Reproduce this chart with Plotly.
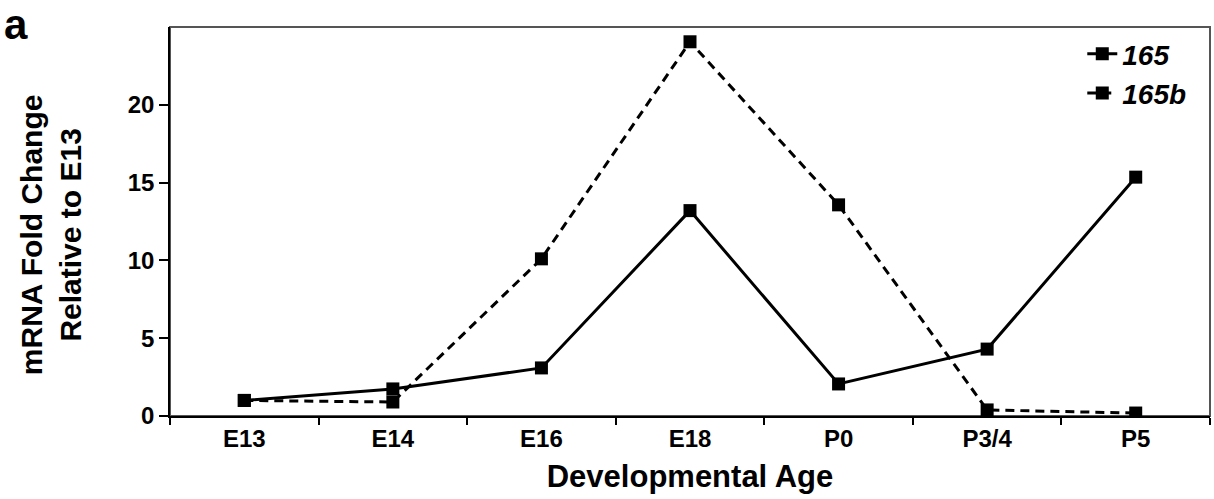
import plotly.graph_objects as go

categories = ["E13", "E14", "E16", "E18", "P0", "P3/4", "P5"]
vegf165 = [1.0, 1.74, 3.09, 13.2, 2.06, 4.3, 15.35]
vegf165b = [1.0, 0.9, 10.1, 24.05, 13.57, 0.39, 0.19]
y_ticks = [0, 5, 10, 15, 20]

FONT = "Liberation Sans, Arial, sans-serif"

fig = go.Figure()
fig.add_trace(go.Scatter(
    x=categories, y=vegf165, name="<b><i>165</i></b>", mode="lines+markers",
    line=dict(color="black", width=3, dash="solid"),
    marker=dict(symbol="square", size=13, color="black"),
))
fig.add_trace(go.Scatter(
    x=categories, y=vegf165b, name="<b><i>165b</i></b>", mode="lines+markers",
    line=dict(color="black", width=3, dash="9px,6px"),
    marker=dict(symbol="square", size=13, color="black"),
))

fig.update_layout(
    width=1214, height=499,
    margin=dict(l=170, r=4, t=27, b=83),
    paper_bgcolor="white", plot_bgcolor="white",
    font=dict(family=FONT, color="black"),
    showlegend=True,
    legend=dict(
        x=0.982, y=0.995, xanchor="right", yanchor="top",
        font=dict(size=28, family=FONT, color="black"),
        bgcolor="rgba(0,0,0,0)", tracegroupgap=0,
    ),
    shapes=[dict(type="rect", xref="paper", yref="paper", x0=0, x1=1, y0=0, y1=1,
                 line=dict(color="#555555", width=2), layer="below")],
    annotations=[
        dict(text="<b>a</b>", x=-0.161, y=1.069, xref="paper", yref="paper",
             xanchor="left", yanchor="top", showarrow=False, borderpad=0,
             font=dict(size=42, family=FONT, color="black")),
        dict(text="<b>mRNA Fold Change<br>Relative to E13</b>", textangle=-90,
             x=-0.1144, y=0.465, xref="paper", yref="paper",
             xanchor="center", yanchor="middle", showarrow=False,
             font=dict(size=30, family=FONT, color="black")),
    ],
)

fig.update_xaxes(
    type="category", tickson="boundaries", ticks="outside", ticklen=7, tickwidth=1.5,
    tickcolor="black", showline=True, linecolor="black", linewidth=1.5,
    showgrid=False, zeroline=False,
    tickfont=dict(size=24, family=FONT, color="black"),
    range=[-0.5, 6.5],
    tickvals=categories, ticktext=["<b>%s</b>" % c for c in categories],
    title=dict(text="<b>Developmental Age</b>", font=dict(size=31, family=FONT, color="black"),
               standoff=15),
)
fig.update_yaxes(
    range=[0, 25], tickvals=y_ticks, ticktext=["<b>%d</b>" % v for v in y_ticks],
    ticks="outside", ticklen=9, tickwidth=1.5, tickcolor="black",
    showline=True, linecolor="black", linewidth=1.5, showgrid=False, zeroline=False,
    tickfont=dict(size=24, family=FONT, color="black"),
)

fig.write_html("out.html")
